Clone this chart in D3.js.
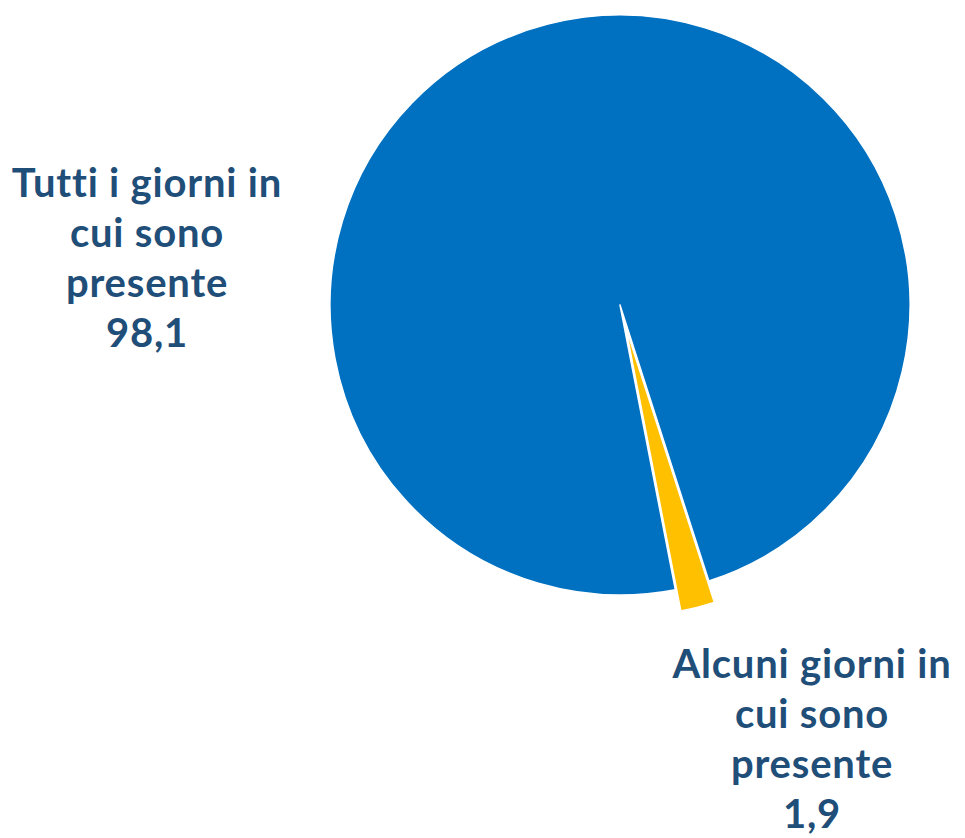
<!DOCTYPE html>
<html>
<head>
<meta charset="utf-8">
<script src="https://cdn.jsdelivr.net/npm/d3@7"></script>
<style>
  html, body { margin: 0; padding: 0; background: #ffffff; }
  svg { display: block; }
  text.label { font-variant-ligatures: none; font-feature-settings: "liga" 0; }
</style>
</head>
<body>
<svg id="chart" width="965" height="838"></svg>
<script>
// Categories and their shares (%)
const categories = [
  "Tutti i giorni in cui sono presente",
  "Alcuni giorni in cui sono presente"
];
const values = [98.1, 1.9];
const sliceColors = ["#0070C0", "#FFC000"];
// Wrapped label lines for each category
const labelLines = [
  ["Tutti i giorni in", "cui sono", "presente"],
  ["Alcuni giorni in", "cui sono", "presente"]
];

const width = 965, height = 838;
const cx = 620, cy = 305, radius = 290;
const explode = [0, 22];           // outward offset per slice (px)
const firstSliceAngle = 169;       // degrees, clockwise from 12 o'clock
const textColor = "#1F4E79";

const it = d3.formatLocale({ decimal: ",", thousands: ".", grouping: [3], currency: ["€", ""] });
const fmt = it.format(".1f");

const data = categories.map((c, i) => ({ name: c, value: values[i], i }));

const pie = d3.pie()
  .sort(null)
  .value(d => d.value)
  .startAngle(firstSliceAngle * Math.PI / 180)
  .endAngle(firstSliceAngle * Math.PI / 180 + 2 * Math.PI);

const arc = d3.arc().innerRadius(0).outerRadius(radius);

const svg = d3.select("#chart");
const g = svg.append("g").attr("transform", `translate(${cx},${cy})`);

g.selectAll("path.slice")
  .data(pie(data))
  .join("path")
  .attr("class", "slice")
  .attr("d", arc)
  .attr("fill", d => sliceColors[d.data.i])
  .attr("stroke", "#ffffff")
  .attr("stroke-width", 1.5)
  .attr("stroke-linejoin", "round")
  .attr("transform", d => {
    const mid = (d.startAngle + d.endAngle) / 2;
    const off = explode[d.data.i];
    return `translate(${off * Math.sin(mid)},${-off * Math.cos(mid)})`;
  });

// Data labels: category name followed by value
const labelAnchors = [
  { x: 147, y: 197 },
  { x: 812, y: 678 }
];
const lineStep = 50;

const labels = svg.selectAll("text.label")
  .data(data)
  .join("text")
  .attr("class", "label")
  .attr("text-anchor", "middle")
  .attr("fill", textColor)
  .attr("font-family", "Lato, 'DejaVu Sans', sans-serif")
  .attr("font-weight", "bold")
  .attr("font-size", 40)
  .attr("letter-spacing", 0.8);

labels.each(function(d) {
  const t = d3.select(this);
  const a = labelAnchors[d.i];
  const lines = labelLines[d.i].concat([fmt(d.value)]);
  lines.forEach((ln, k) => {
    t.append("tspan")
      .attr("x", a.x)
      .attr("y", a.y + k * lineStep)
      .text(ln);
  });
});
</script>
</body>
</html>
